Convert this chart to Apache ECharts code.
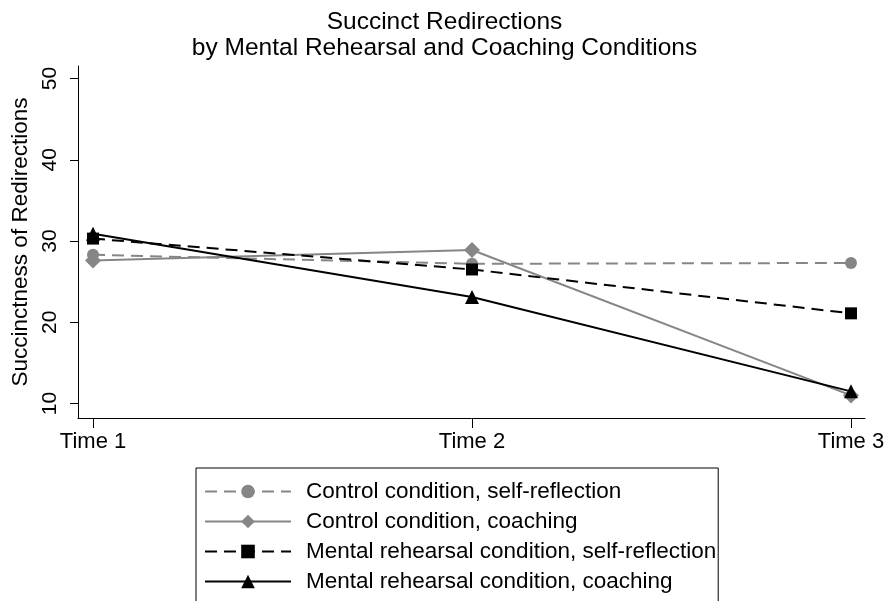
<!DOCTYPE html>
<html>
<head>
<meta charset="utf-8">
<script src="https://cdn.jsdelivr.net/npm/echarts@6/dist/echarts.min.js"></script>
<style>html,body{margin:0;padding:0;background:#fff}#c{width:889px;height:601px}</style>
</head>
<body>
<div id="c"></div>
<script>
var timePoints = [1, 2, 3];
var timeLabels = ['Time 1', 'Time 2', 'Time 3'];
var yTicks = [10, 20, 30, 40, 50];
var seriesNames = [
  'Control condition, self-reflection',
  'Control condition, coaching',
  'Mental rehearsal condition, self-reflection',
  'Mental rehearsal condition, coaching'
];
var controlSelf = [28.3, 27.2, 27.3];
var controlCoach = [27.6, 28.9, 11.0];
var mentalSelf = [30.3, 26.5, 21.1];
var mentalCoach = [30.9, 23.1, 11.5];

function pts(vals) { return timePoints.map(function (t, i) { return [t, vals[i]]; }); }

var FONT = 'Liberation Sans, Arial, Helvetica, sans-serif';
var GRAY = '#868686';
var DASH = [12, 7];

var chart = echarts.init(document.getElementById('c'), null, { renderer: 'canvas' });
chart.setOption({
  animation: false,
  backgroundColor: '#fff',
  title: {
    text: 'Succinct Redirections\nby Mental Rehearsal and Coaching Conditions',
    left: 'center',
    top: 4,
    textStyle: { fontFamily: FONT, fontSize: 24.5, fontWeight: 'normal', color: '#000', lineHeight: 26 }
  },
  grid: { left: 78, right: 24, top: 66, bottom: 183, containLabel: false },
  xAxis: {
    type: 'value',
    min: 0.9604,
    max: 3.037,
    axisLine: { show: true, lineStyle: { color: '#000', width: 1 } },
    axisTick: { show: true, length: 10, lineStyle: { color: '#000' }, customValues: timePoints },
    axisLabel: {
      customValues: timePoints,
      margin: 13,
      fontFamily: FONT, fontSize: 22, color: '#000',
      formatter: function (v) { var i = timePoints.indexOf(v); return i >= 0 ? timeLabels[i] : ''; }
    },
    splitLine: { show: false }
  },
  yAxis: {
    type: 'value',
    min: 8.22,
    max: 51.54,
    name: 'Succinctness of Redirections',
    nameLocation: 'middle',
    nameGap: 42,
    nameTextStyle: { fontFamily: FONT, fontSize: 22.5, color: '#000' },
    axisLine: { show: true, lineStyle: { color: '#000', width: 1 } },
    axisTick: { show: true, length: 8, lineStyle: { color: '#000' }, customValues: yTicks },
    axisLabel: {
      customValues: yTicks,
      rotate: 90,
      margin: 17,
      fontFamily: FONT, fontSize: 21, color: '#000'
    },
    splitLine: { show: false }
  },
  legend: {
    orient: 'vertical',
    left: 196,
    top: 468,
    height: 240,
    padding: [12, 2, 60, 8],
    itemWidth: 86,
    itemHeight: 17,
    itemGap: 7,
    borderColor: '#000',
    borderWidth: 1,
    textStyle: { fontFamily: FONT, fontSize: 22.5, lineHeight: 22, color: '#000', padding: [0, 0, 0, 10] },
    data: seriesNames
  },
  series: [
    {
      name: seriesNames[0], type: 'line', data: pts(controlSelf),
      symbol: 'circle', symbolSize: 12,
      lineStyle: { color: GRAY, width: 2, type: DASH },
      itemStyle: { color: GRAY }
    },
    {
      name: seriesNames[1], type: 'line', data: pts(controlCoach),
      symbol: 'diamond', symbolSize: [16, 16],
      lineStyle: { color: GRAY, width: 2, type: 'solid' },
      itemStyle: { color: GRAY }
    },
    {
      name: seriesNames[2], type: 'line', data: pts(mentalSelf),
      symbol: 'rect', symbolSize: 12,
      lineStyle: { color: '#000', width: 2, type: DASH },
      itemStyle: { color: '#000' }
    },
    {
      name: seriesNames[3], type: 'line', data: pts(mentalCoach),
      symbol: 'triangle', symbolSize: 14,
      lineStyle: { color: '#000', width: 2, type: 'solid' },
      itemStyle: { color: '#000' }
    }
  ]
});
</script>
</body>
</html>
